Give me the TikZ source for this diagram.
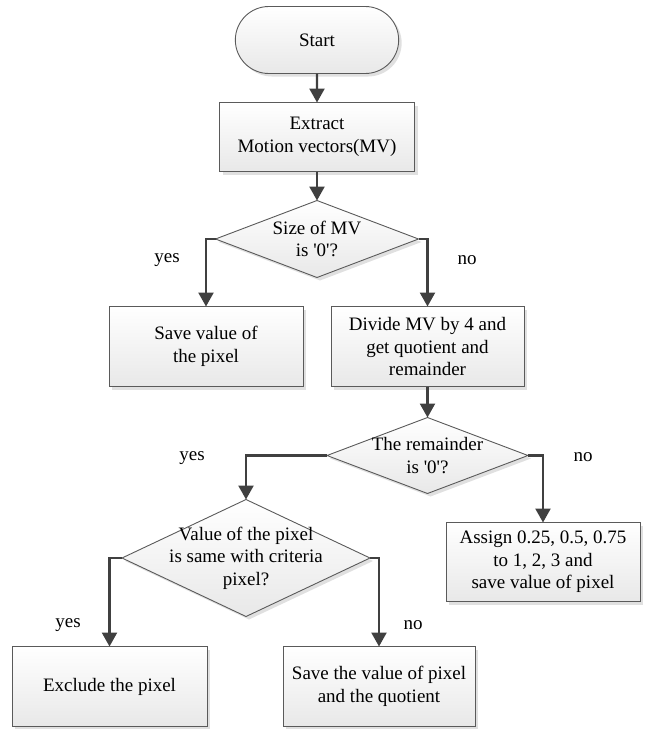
\documentclass[tikz,border=0pt]{standalone}
\usepackage{fontspec}
\setmainfont{Liberation Serif}
\usetikzlibrary{shapes.geometric, shapes.misc, arrows.meta, positioning, shadows}
\definecolor{flowline}{RGB}{64, 64, 64}
\definecolor{flowedge}{RGB}{90, 90, 90}

\begin{document}
\begin{tikzpicture}[
                    x=1pt, y=1pt,
                    font=\fontsize{19}{22.5}\selectfont,
                    base/.style={draw=flowedge, line width=0.9pt, top color=white, bottom color=gray!18, outer sep=0pt, align=center,
                                 drop shadow={shadow xshift=3pt, shadow yshift=-3pt, fill=gray!40, opacity=.6}},
                    terminal/.style={base, rounded rectangle, minimum width=170pt, minimum height=67pt},
                    box/.style={base, rectangle, minimum width=194pt, minimum height=80pt},
                    decision/.style={base, diamond, aspect=2.6, inner sep=-9pt},
                    arrow/.style={-{Triangle[length=14pt, width=15pt]}, line width=2.4pt, draw=flowline},
                    lbl/.style={inner sep=0pt}
                ]
                \useasboundingbox (0,0) rectangle (646,-729);

                % --- Main chain ---
                \node[terminal] (start) at (317,-40) {Start};
                \node[box, minimum width=195pt, minimum height=69pt, below=29pt of start] (extract) {Extract \\ Motion vectors(MV)};
                \node[decision, minimum width=203pt, minimum height=77pt, below=29pt of extract] (size) {Size of MV \\ is \textquotesingle0\textquotesingle?};

                \draw[arrow] (start) -- (extract);
                \draw[arrow] (extract) -- (size);

                % --- First split ---
                \node[box, below=29pt of size, xshift=-111pt] (savepix) {Save value of \\ the pixel};
                \node[box, minimum width=193pt, below=29pt of size, xshift=110.5pt] (divide) {Divide MV by 4 and \\ get quotient and \\ remainder};

                \draw[arrow] (size) -| (savepix);
                \draw[arrow] (size) -| (divide);

                \node[lbl] at (167,-260) {yes};
                \node[lbl] at (467,-260) {no};

                % --- Remainder check ---
                \node[decision, minimum width=201pt, minimum height=76pt, below=31pt of divide] (remain) {The remainder \\ is \textquotesingle0\textquotesingle?};
                \node[decision, aspect=2.1, minimum width=248pt, minimum height=117pt, below=6pt of remain, xshift=-181.5pt] (criteria) {Value of the pixel \\ is same with criteria \\ pixel?};
                \node[box, minimum height=79pt, below=29pt of remain, xshift=115.5pt] (assign) {Assign 0.25, 0.5, 0.75 \\ to 1, 2, 3 and \\ save value of pixel};

                \draw[arrow] (divide) -- (remain);
                \draw[arrow] (remain) -| (criteria);
                \draw[arrow] (remain) -| (assign);

                \node[lbl] at (192,-458) {yes};
                \node[lbl] at (583,-457) {no};

                % --- Criteria check ---
                \node[box, minimum width=195pt, below=30pt of criteria, xshift=-136.5pt] (exclude) {Exclude the pixel};
                \node[box, minimum width=192pt, below=30pt of criteria, xshift=133pt] (savequot) {Save the value of pixel \\ and the quotient};

                \draw[arrow] (criteria) -| (exclude);
                \draw[arrow] (criteria) -| (savequot);

                \node[lbl] at (68,-625) {yes};
                \node[lbl] at (413,-625) {no};

                \end{tikzpicture}
\end{document}
